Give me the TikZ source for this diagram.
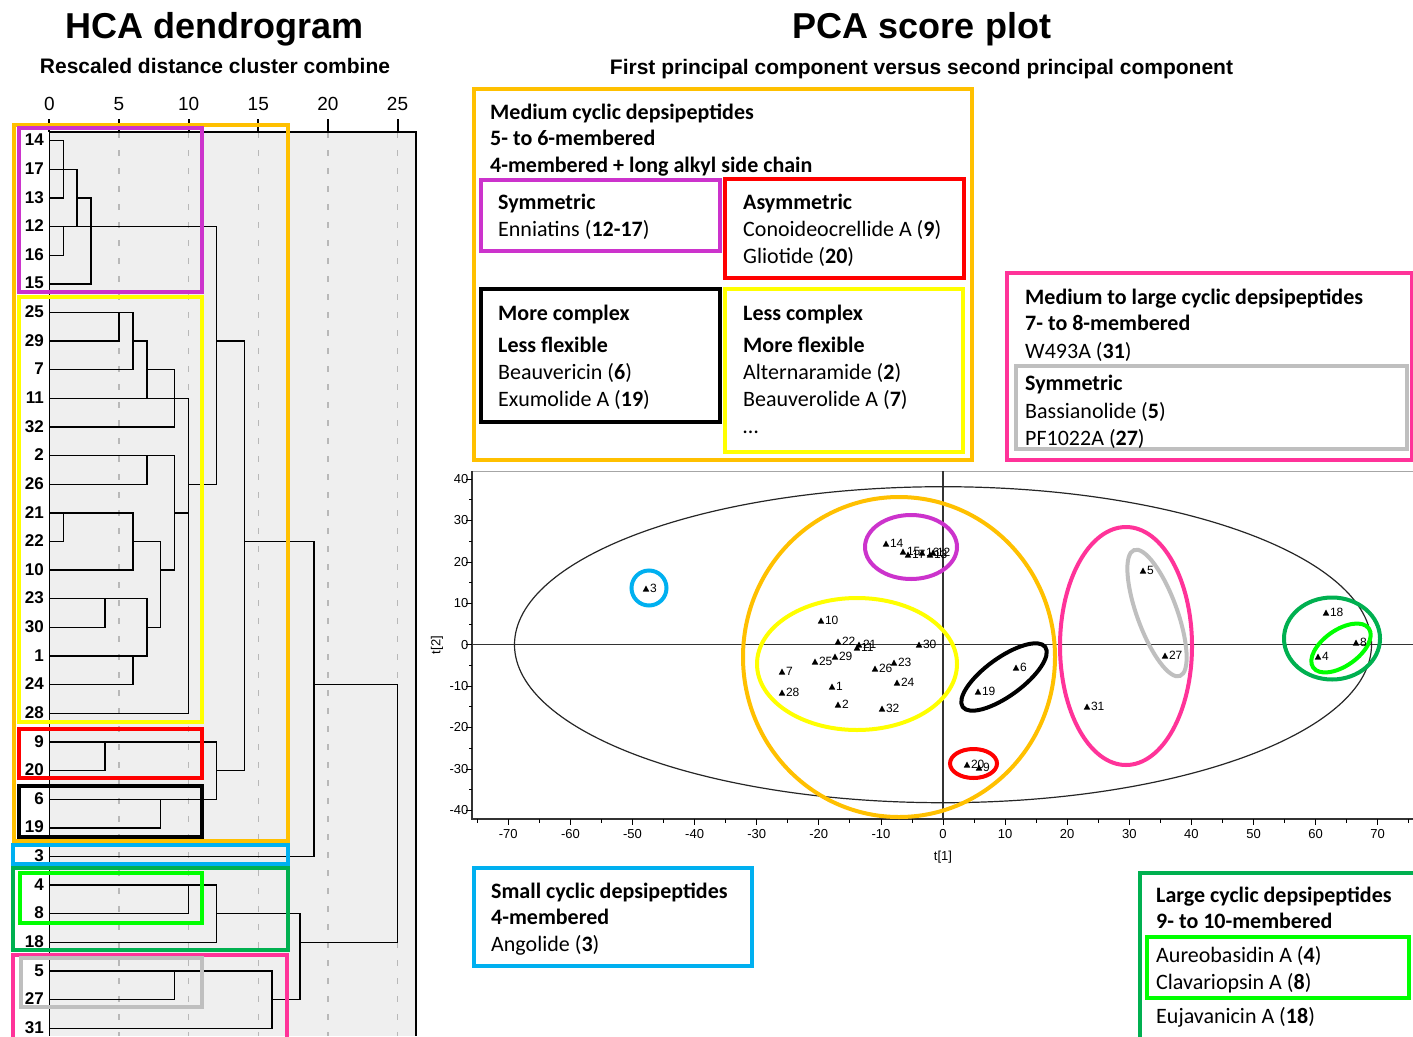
\documentclass[tikz,border=0pt]{standalone}
\usepackage{fontspec}
\setmainfont{Carlito}
\newfontfamily\arialf{Liberation Sans}
\definecolor{corange}{HTML}{FFC000}
\definecolor{cpurple}{HTML}{CC33CC}
\definecolor{cyellow}{HTML}{FFFF00}
\definecolor{cred}{HTML}{FF0000}
\definecolor{ccyan}{HTML}{00B0F0}
\definecolor{cdgreen}{HTML}{00B050}
\definecolor{cbgreen}{HTML}{00FF00}
\definecolor{cpink}{HTML}{FF3399}
\definecolor{cgray}{HTML}{BFBFBF}
\definecolor{dbg}{HTML}{EFEFEF}
\definecolor{gridc}{HTML}{B8B8B8}
\begin{document}
\begin{tikzpicture}[x=1pt,y=-1pt,
  title/.style={font=\arialf\bfseries\fontsize{36}{36}\selectfont, anchor=base, inner sep=0pt},
  subtitle/.style={font=\arialf\bfseries\fontsize{21}{21}\selectfont, anchor=base, inner sep=0pt},
  dline/.style={line width=1.4pt, black, line cap=rect},
  dlab/.style={font=\arialf\bfseries\fontsize{17}{17}\selectfont, anchor=east, inner sep=0pt},
  dtick/.style={font=\arialf\fontsize{19}{19}\selectfont, anchor=base, inner sep=0pt},
  grid/.style={gridc, line width=1.2pt, dash pattern=on 6pt off 12pt},
  cbox/.style={line width=4pt},
  btxt/.style={font=\bfseries\fontsize{22}{22}\selectfont, anchor=base west, inner sep=0pt},
  rtxt/.style={font=\fontsize{22}{22}\selectfont, anchor=base west, inner sep=0pt},
  ptlab/.style={font=\arialf\fontsize{12}{12}\selectfont, anchor=base west, inner sep=0pt},
  axlab/.style={font=\arialf\fontsize{13}{13}\selectfont, inner sep=0pt},
  axline/.style={line width=1.2pt, black!80},
  cell/.style={line width=4pt}
]
\useasboundingbox (0,0) rectangle (1413,1036);
\fill[white] (0,0) rectangle (1413,1036);

% ---------------- titles
\node[title] (t1) at (215,38) {HCA dendrogram};
\node[title] (t2) at (922,38) {PCA score plot};
\node[subtitle] (s1) at (215,73.5) {Rescaled distance cluster combine};
\node[subtitle] (s2) at (921.5,74.5) {First principal component versus second principal component};

% ---------------- dendrogram
\fill[dbg] (49.3,132) rectangle (416,1036);
\foreach \d in {5,10,...,25} \draw[grid] ({49.3+13.93*\d},132) -- ({49.3+13.93*\d},1036);
\draw[line width=0.8pt] (49.3,132) -- (49.3,1036);
\draw[line width=1.3pt] (49.3,132) -- (416,132) -- (416,1036);
\foreach \d in {0,5,...,25} {
  \draw[line width=2pt] ({49.3+13.93*\d},119) -- ({49.3+13.93*\d},132);
  \node[dtick] (dt\d) at ({49.3+13.93*\d},110) {\d};
}
\foreach \r/\a/\b in {0/0/1, 1/0/2, 2/0/1, 2/2/3, 3/0/12, 4/0/1, 5/0/3, 6/0/6, 7/0/5, 7/6/7, 7/12/14, 8/0/6, 8/7/9, 9/0/10, 10/0/9, 11/0/9, 12/0/7, 12/10/12, 13/0/6, 13/9/10, 14/0/1, 14/6/8, 14/14/19, 15/0/6, 15/8/9, 16/0/7, 17/0/4, 17/7/8, 18/0/7, 19/0/6, 19/19/25, 20/0/10, 21/0/12, 22/0/4, 22/12/14, 23/0/12, 24/0/8, 25/0/19, 26/0/12, 27/0/10, 27/12/18, 28/0/12, 28/18/25, 29/0/16, 30/0/9, 30/16/18, 31/0/16}
  \draw[dline] ({49.3+13.93*\a},{140.7+28.63*\r}) -- ({49.3+13.93*\b},{140.7+28.63*\r});
\foreach \d/\a/\b in {1/0/2, 1/3/4, 1/13/14, 2/1/3, 3/2/5, 4/16/17, 4/21/22, 5/6/7, 6/6/8, 6/13/15, 6/18/19, 7/7/9, 7/11/12, 7/16/18, 8/14/17, 8/23/24, 9/8/10, 9/11/15, 9/29/30, 10/9/20, 10/26/27, 12/3/12, 12/21/23, 12/26/28, 14/7/22, 16/29/31, 18/27/30, 19/14/25, 25/19/28}
  \draw[dline] ({49.3+13.93*\d},{140.7+28.63*\a}) -- ({49.3+13.93*\d},{140.7+28.63*\b});
\foreach \r/\t in {0/14,1/17,2/13,3/12,4/16,5/15,6/25,7/29,8/7,9/11,10/32,11/2,12/26,13/21,14/22,15/10,16/23,17/30,18/1,19/24,20/28,21/9,22/20,23/6,24/19,25/3,26/4,27/8,28/18,29/5,30/27,31/31}
  \node[dlab] (leaf\r) at (44,{140+28.63*\r}) {\t};

% dendrogram cluster boxes
\draw[cbox, corange] (14,125) rectangle (288,841);
\draw[cbox, cpurple] (19,128) rectangle (202,292);
\draw[cbox, cyellow] (19,297) rectangle (202,722);
\draw[cbox, cred] (19,729) rectangle (202,778);
\draw[cbox, black] (19,786) rectangle (202,837);
\draw[cbox, ccyan] (13,845) rectangle (288,864);
\draw[cbox, cdgreen] (13,868) rectangle (288,950);
\draw[cbox, cbgreen] (20,873) rectangle (202,923);
\draw[cbox, cpink] (13,955) rectangle (287,1045);
\draw[cbox, cgray] (21,958) rectangle (202,1007);

% ---------------- PCA plot frame and axes
\draw[gray!70, line width=1pt] (472,471) -- (1413,471);
\draw[axline] (472,644.7) -- (1413,644.7);
\draw[axline] (943,471) -- (943,819);
\draw[axline] (472,471) -- (472,819) -- (1413,819);
\foreach \v in {-40,-30,...,40} {
  \draw[line width=0.8pt] (466,{644.7-4.14*\v}) -- (472,{644.7-4.14*\v});
  \node[axlab, anchor=east] (yt\v) at (468.5,{644.7-4.14*\v}) {\v};
}
\foreach \v in {-35,-25,...,35}
  \draw[line width=0.8pt] (469,{644.7-4.14*\v}) -- (472,{644.7-4.14*\v});
\foreach \t in {-70,-60,...,70} {
  \draw[line width=0.8pt] ({943+6.21*\t},819) -- ({943+6.21*\t},825);
  \node[axlab] (xt\t) at ({943+6.21*\t},834.5) {\t};
}
\foreach \t in {-75,-65,...,75}
  \draw[line width=0.8pt] ({943+6.21*\t},819) -- ({943+6.21*\t},822.5);
\node[axlab, rotate=90] (ylab) at (437,645) {t[2]};
\node[axlab] (xlab) at (943,857) {t[1]};

% Hotelling ellipse
\draw[line width=1.2pt, black!85] (943,644.7) ellipse [x radius=428.5pt, y radius=158pt];

% cluster ellipses
\draw[cell, ccyan] (649,588) circle [radius=17.5pt];
\draw[cell, corange] (899,657) ellipse [x radius=156pt, y radius=160pt];
\draw[cell, cpurple] (911,547) ellipse [x radius=46pt, y radius=32pt];
\draw[cell, cyellow] (857,664) ellipse [x radius=100pt, y radius=66pt];
\draw[cell, black, shift={(1004,677)}, rotate=36] (0,0) ellipse [x radius=51pt, y radius=19pt];
\draw[cell, cred] (973.5,763.5) ellipse [x radius=23.5pt, y radius=14.5pt];
\draw[cell, cpink] (1126,646) ellipse [x radius=66pt, y radius=119pt];
\draw[cell, cgray, shift={(1157,613)}, rotate=110] (0,0) ellipse [x radius=67pt, y radius=20pt];
\draw[cell, cdgreen] (1332,638.5) ellipse [x radius=48pt, y radius=41pt];
\draw[cell, cbgreen, shift={(1341,648)}, rotate=35] (0,0) ellipse [x radius=34pt, y radius=18pt];

% score points
\foreach \n/\px/\py in {3/646/589, 14/886/544, 15/903/552, 17/908/555, 16/922/553, 13/930/555, 12/933/553, 10/821/621, 22/838/642, 21/859/645, 11/857/648, 30/919/645, 25/815/662, 29/835/657, 26/875/669, 23/894/663, 7/782/672, 24/897/683, 1/832/687, 28/782/693, 2/838/705, 32/882/709, 6/1016/668, 19/978/692, 20/967/765, 9/979/768, 5/1143/571, 27/1165/656, 31/1087/707, 18/1326/613, 8/1356/643, 4/1318/657} {
  \fill ({\px-3.2},{\py+2.5}) -- ({\px+3.2},{\py+2.5}) -- (\px,{\py-3.5}) -- cycle;
  \node[ptlab] (pt\n) at ({\px+3.8},{\py+3}) {\n};
}

% ---------------- text boxes (top)
\draw[cbox, corange] (474,89) rectangle (972,460);
\node[btxt] (m1) at (490,119) {Medium cyclic depsipeptides};
\node[btxt] (m2) at (490,145.5) {5- to 6-membered};
\node[btxt] (m3) at (490,172) {4-membered + long alkyl side chain};

\draw[cbox, cpurple] (481,180) rectangle (720,251);
\node[btxt] (sy1) at (498,209.5) {Symmetric};
\node[rtxt] (sy2) at (498,236) {Enniatins (\textbf{12-17})};

\draw[cbox, cred] (725,179) rectangle (964,278);
\node[btxt] (as1) at (743,209.5) {Asymmetric};
\node[rtxt] (as2) at (743,236) {Conoideocrellide A (\textbf{9})};
\node[rtxt] (as3) at (743,263.5) {Gliotide (\textbf{20})};

\draw[cbox, black] (481,289) rectangle (720,422);
\node[btxt] (mc1) at (498,320) {More complex};
\node[btxt] (mc2) at (498,352) {Less flexible};
\node[rtxt] (mc3) at (498,379.5) {Beauvericin (\textbf{6})};
\node[rtxt] (mc4) at (498,406.5) {Exumolide A (\textbf{19})};

\draw[cbox, cyellow] (725,289) rectangle (963,452);
\node[btxt] (lc1) at (743,320) {Less complex};
\node[btxt] (lc2) at (743,352) {More flexible};
\node[rtxt] (lc3) at (743,379.5) {Alternaramide (\textbf{2})};
\node[rtxt] (lc4) at (743,406.5) {Beauverolide A (\textbf{7})};
\node[rtxt] (lc5) at (743,433) {…};

% pink box (right)
\draw[cbox, cpink] (1007,273) rectangle (1412,460);
\node[btxt] (ml1) at (1025,304.5) {Medium to large cyclic depsipeptides};
\node[btxt] (ml2) at (1025,330.5) {7- to 8-membered};
\node[rtxt] (ml3) at (1025,358) {W493A (\textbf{31})};
\draw[cbox, cgray] (1016,366) rectangle (1407,449);
\node[btxt] (ms1) at (1025,390.5) {Symmetric};
\node[rtxt] (ms2) at (1025,418) {Bassianolide (\textbf{5})};
\node[rtxt] (ms3) at (1025,445.5) {PF1022A (\textbf{27})};

% cyan box (bottom)
\draw[cbox, ccyan] (474,868) rectangle (752,966);
\node[btxt] (sc1) at (491,898) {Small cyclic depsipeptides};
\node[btxt] (sc2) at (491,924) {4-membered};
\node[rtxt] (sc3) at (491,951) {Angolide (\textbf{3})};

% green box (bottom right)
\draw[cbox, cdgreen] (1140,873) rectangle (1425,1045);
\node[btxt] (lg1) at (1156,902) {Large cyclic depsipeptides};
\node[btxt] (lg2) at (1156,928) {9- to 10-membered};
\draw[cbox, cbgreen] (1147,937) rectangle (1409,998);
\node[rtxt] (lg3) at (1156,962) {Aureobasidin A (\textbf{4})};
\node[rtxt] (lg4) at (1156,989) {Clavariopsin A (\textbf{8})};
\node[rtxt] (lg5) at (1156,1023) {Eujavanicin A (\textbf{18})};
\end{tikzpicture}
\end{document}
